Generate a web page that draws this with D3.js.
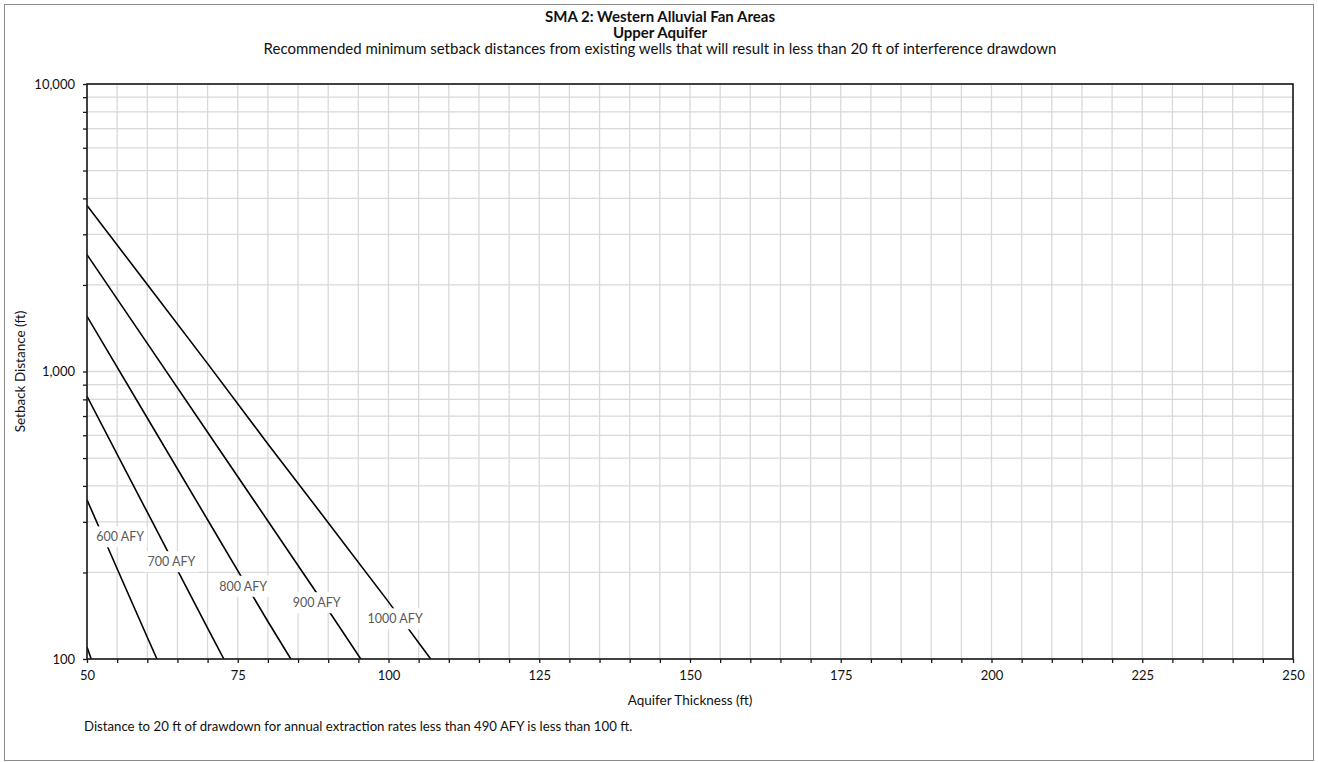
<!DOCTYPE html>
<html>
<head>
<meta charset="utf-8">
<script src="https://cdn.jsdelivr.net/npm/d3@7"></script>
<style>
  body { margin: 0; background: #fff; }
  svg text { font-family: Lato, "Open Sans", sans-serif; }
</style>
</head>
<body>
<div id="chart"></div>
<script>
// setback distance vs aquifer thickness (log y)
var svgWidth = 1318;
var svgHeight = 762;

var margin = { top: 84, right: 25, bottom: 103, left: 87 };
var width = svgWidth - margin.left - margin.right;
var height = svgHeight - margin.top - margin.bottom;

// series: thickness (ft) and setback distance (ft)
var rateNames = ["490 AFY", "600 AFY", "700 AFY", "800 AFY", "900 AFY", "1000 AFY"];
var thick490 = [50, 50.7];
var dist490 = [110, 100];
var thick600 = [50, 55, 60, 61.6];
var dist600 = [358, 206, 119, 100];
var thick700 = [50, 60, 70, 72.7];
var dist700 = [820, 324, 128, 100];
var thick800 = [50, 60, 70, 80, 83.8];
var dist800 = [1556, 689, 305, 135, 100];
var thick900 = [50, 60, 70, 80, 90, 95.4];
var dist900 = [2550, 1253, 615, 302, 148, 100];
var thick1000 = [50, 60, 70, 80, 90, 100, 107];
var dist1000 = [3780, 2007, 1065, 560, 298, 158, 100];

// data label anchors (thickness, distance)
var labelNames = ["600 AFY", "700 AFY", "800 AFY", "900 AFY", "1000 AFY"];
var labelThick = [55.5, 64.0, 75.9, 88.1, 101.1];
var labelDist = [266, 218, 179, 157, 138];

var xTicks = [50, 75, 100, 125, 150, 175, 200, 225, 250];
var yTicks = [100, 1000, 10000];

var allThick = [thick490, thick600, thick700, thick800, thick900, thick1000];
var allDist = [dist490, dist600, dist700, dist800, dist900, dist1000];

var svg = d3.select("#chart")
  .append("svg")
  .attr("width", svgWidth)
  .attr("height", svgHeight);

// outer chart border
svg.append("rect")
  .attr("x", 4.5)
  .attr("y", 4.5)
  .attr("width", svgWidth - 9)
  .attr("height", svgHeight - 6)
  .attr("fill", "none")
  .attr("stroke", "#8c8c8c")
  .attr("stroke-width", 1);

var chartGroup = svg.append("g")
  .attr("transform", `translate(${margin.left}, ${margin.top})`);

var xScale = d3.scaleLinear().domain([50, 250]).range([0, width]);
var yScale = d3.scaleLog().domain([100, 10000]).range([height, 0]);

// minor values for gridlines
var xMinor = d3.range(50, 251, 5);
var yMinor = [];
[100, 1000].forEach(function(d) {
  for (var i = 1; i < 10; i++) yMinor.push(d * i);
});
yMinor.push(10000);

// gridlines
chartGroup.append("g").selectAll("line")
  .data(xMinor)
  .enter()
  .append("line")
  .attr("x1", d => xScale(d))
  .attr("x2", d => xScale(d))
  .attr("y1", 0)
  .attr("y2", height)
  .attr("stroke", "#d9d9d9")
  .attr("stroke-width", 1.3);

chartGroup.append("g").selectAll("line")
  .data(yMinor)
  .enter()
  .append("line")
  .attr("x1", 0)
  .attr("x2", width)
  .attr("y1", d => yScale(d))
  .attr("y2", d => yScale(d))
  .attr("stroke", "#d9d9d9")
  .attr("stroke-width", 1.3);

// clip for series
svg.append("defs").append("clipPath")
  .attr("id", "plotClip")
  .append("rect")
  .attr("width", width)
  .attr("height", height);

var line = d3.line()
  .x(d => xScale(d[0]))
  .y(d => yScale(d[1]));

chartGroup.append("g")
  .attr("clip-path", "url(#plotClip)")
  .selectAll("path")
  .data(rateNames)
  .enter()
  .append("path")
  .attr("d", (d, i) => line(allThick[i].map((t, j) => [t, allDist[i][j]])))
  .attr("fill", "none")
  .attr("stroke", "#000")
  .attr("stroke-width", 1.6);

// plot area frame
chartGroup.append("rect")
  .attr("width", width)
  .attr("height", height)
  .attr("fill", "none")
  .attr("stroke", "#1a1a1a")
  .attr("stroke-width", 1.6);

// axes
var bottomAxis = d3.axisBottom(xScale)
  .tickValues(xMinor)
  .tickSize(4)
  .tickFormat(d => xTicks.indexOf(d) >= 0 ? d : "");
var leftAxis = d3.axisLeft(yScale)
  .tickValues(yMinor)
  .tickSize(4)
  .tickFormat(d => yTicks.indexOf(d) >= 0 ? d3.format(",")(d) : "");

var xAxis = chartGroup.append("g")
  .attr("transform", `translate(0, ${height})`)
  .call(bottomAxis);
var yAxis = chartGroup.append("g")
  .call(leftAxis);

[xAxis, yAxis].forEach(function(ax) {
  ax.select(".domain").remove();
  ax.selectAll(".tick line").attr("stroke", "#1a1a1a").attr("stroke-width", 1.3);
  ax.selectAll(".tick text")
    .attr("fill", "#111")
    .style("font-size", "13px")
    .style("font-family", "Lato, sans-serif");
});
xAxis.selectAll(".tick text").attr("y", 12);
yAxis.selectAll(".tick text").attr("x", -12);

// data labels
var labels = chartGroup.append("g").selectAll("g")
  .data(labelNames)
  .enter()
  .append("g")
  .attr("transform", (d, i) => `translate(${xScale(labelThick[i])}, ${yScale(labelDist[i])})`);

labels.append("text")
  .attr("text-anchor", "middle")
  .attr("dy", "0.35em")
  .attr("fill", "#595959")
  .style("font-size", "12.5px")
  .text(d => d);

labels.each(function() {
  var g = d3.select(this);
  var bb = g.select("text").node().getBBox();
  g.insert("rect", "text")
    .attr("x", bb.x - 3)
    .attr("y", -10.5)
    .attr("width", bb.width + 6)
    .attr("height", 21)
    .attr("fill", "#fff");
});

// titles
svg.append("text")
  .attr("x", 660)
  .attr("y", 22)
  .attr("text-anchor", "middle")
  .attr("font-weight", "bold")
  .style("font-size", "15px")
  .attr("fill", "#111")
  .text("SMA 2: Western Alluvial Fan Areas");

svg.append("text")
  .attr("x", 660)
  .attr("y", 38)
  .attr("text-anchor", "middle")
  .attr("font-weight", "bold")
  .style("font-size", "15px")
  .attr("fill", "#111")
  .text("Upper Aquifer");

svg.append("text")
  .attr("x", 660)
  .attr("y", 54)
  .attr("text-anchor", "middle")
  .style("font-size", "15px")
  .attr("fill", "#111")
  .text("Recommended minimum setback distances from existing wells that will result in less than 20 ft of interference drawdown");

// axis titles
svg.append("text")
  .attr("x", margin.left + width / 2)
  .attr("y", 705)
  .attr("text-anchor", "middle")
  .style("font-size", "13.5px")
  .attr("fill", "#111")
  .text("Aquifer Thickness (ft)");

svg.append("text")
  .attr("transform", "rotate(-90)")
  .attr("x", -(margin.top + height / 2))
  .attr("y", 25)
  .attr("text-anchor", "middle")
  .style("font-size", "13.5px")
  .attr("fill", "#111")
  .text("Setback Distance (ft)");

// footnote
svg.append("text")
  .attr("x", 84)
  .attr("y", 731)
  .style("font-size", "13.2px")
  .attr("fill", "#111")
  .text("Distance to 20 ft of drawdown for annual extraction rates less than 490 AFY is less than 100 ft.");
</script>
</body>
</html>
